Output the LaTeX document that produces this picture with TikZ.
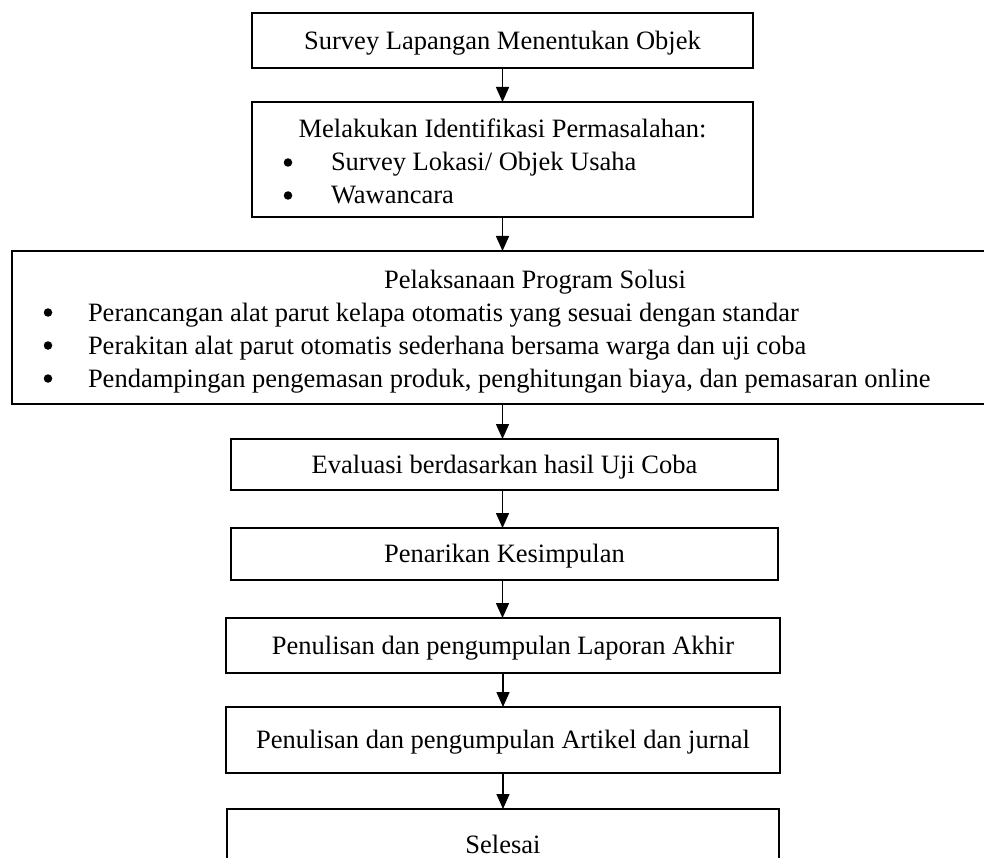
\documentclass[tikz,border=0pt]{standalone}
\usepackage{fontspec}
\setmainfont{Liberation Serif}
\usetikzlibrary{arrows.meta}
\tikzset{
  fnt/.style={font=\fontsize{26.5}{33}\selectfont},
  box/.style={draw, line width=1.8pt, inner sep=0pt, outer sep=0pt, fnt,
    text height=17.5pt, text depth=0pt, align=center},
  arr/.style={line width=1.5pt, -{Triangle[length=15pt,width=13pt]}},
  txt/.style={inner sep=0pt, outer sep=0pt, anchor=base west, fnt},
  ttl/.style={inner sep=0pt, outer sep=0pt, anchor=base, fnt},
  dot/.style={circle, fill=black, inner sep=0pt, minimum size=8.5pt},
}
\begin{document}
\begin{tikzpicture}[x=1pt,y=-1pt]
\clip (0,0) rectangle (984,858);
\fill[white] (0,0) rectangle (984,858);
% box 1
\node[box, minimum width=501pt, minimum height=55pt] (b1) at (502.5,40.5) {Survey Lapangan Menentukan Objek};
% box 2
\node[box, minimum width=501pt, minimum height=115pt] (b2) at (502.5,159.5) {};
\node[ttl] (t2) at (502.5,138) {Melakukan Identifikasi Permasalahan:};
\node[dot] (b2d1) at (288,162.5) {};
\node[txt] (b2i1) at (331,171) {Survey Lokasi/ Objek Usaha};
\node[dot] (b2d2) at (288,195.5) {};
\node[txt] (b2i2) at (331,204) {Wawancara};
% box 3
\node[box, minimum width=988pt, minimum height=153pt] (b3) at (506,327.5) {};
\node[ttl] (t3) at (535,288) {Pelaksanaan Program Solusi};
\node[dot] (b3d1) at (48,312.5) {};
\node[txt] (b3i1) at (88,321) {Perancangan alat parut kelapa otomatis yang sesuai dengan standar};
\node[dot] (b3d2) at (48,345.5) {};
\node[txt] (b3i2) at (88,354) {Perakitan alat parut otomatis sederhana bersama warga dan uji coba};
\node[dot] (b3d3) at (48,378.5) {};
\node[txt] (b3i3) at (88,387) {Pendampingan pengemasan produk, penghitungan biaya, dan pemasaran online};
% lower boxes
\node[box, minimum width=547pt, minimum height=51pt] (b4) at (504.5,464.5) {Evaluasi berdasarkan hasil Uji Coba};
\node[box, minimum width=547pt, minimum height=52pt] (b5) at (504.5,554) {Penarikan Kesimpulan};
\node[box, minimum width=554pt, minimum height=55pt] (b6) at (503,645.5) {Penulisan dan pengumpulan Laporan Akhir};
\node[box, minimum width=554pt, minimum height=66pt] (b7) at (503,740) {Penulisan dan pengumpulan Artikel dan jurnal};
\node[box, minimum width=552pt, minimum height=72pt] (b8) at (503,845) {Selesai};
% arrows
\draw[arr] (b1.south) -- (b2.north);
\draw[arr] (b2.south) -- (b2.south |- b3.north);
\coordinate (a3) at (b3.south -| b2.south);
\draw[arr] (a3) -- (a3 |- b4.north);
\coordinate (a4) at (b4.south -| b2.south);
\draw[arr] (a4) -- (a4 |- b5.north);
\coordinate (a5) at (b5.south -| b2.south);
\draw[arr] (a5) -- (a5 |- b6.north);
\draw[arr] (b6.south) -- (b7.north);
\draw[arr] (b7.south) -- (b8.north);
\end{tikzpicture}
\end{document}
